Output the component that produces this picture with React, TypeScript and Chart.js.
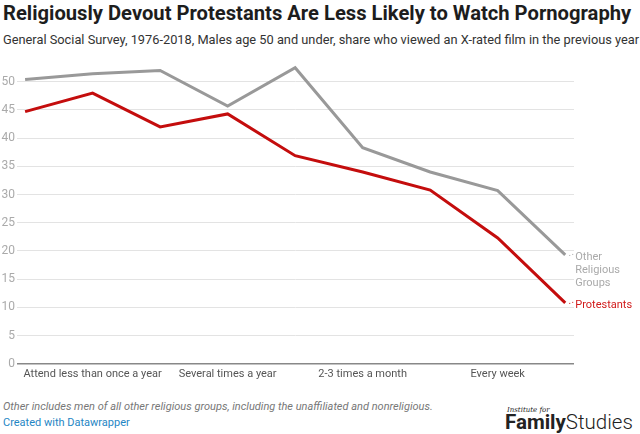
import React, { useEffect, useRef } from "react";
import { Chart, registerables } from "chart.js";

Chart.register(...registerables);

const categories = [
  "Never",
  "Attend less than once a year",
  "Once a year",
  "Several times a year",
  "Once a month",
  "2-3 times a month",
  "Nearly every week",
  "Every week",
  "More than once a week",
];
const shownTickIndexes = [1, 3, 5, 7];
const otherValues = [50.4, 51.4, 52.0, 45.7, 52.5, 38.3, 34.0, 30.7, 19.3];
const protestantValues = [44.7, 48.0, 42.0, 44.3, 36.9, 34.0, 30.8, 22.3, 10.8];
const yTickValues = [0, 5, 10, 15, 20, 25, 30, 35, 40, 45, 50];
const otherLabelLines = ["Other", "Religious", "Groups"];
const protestantLabelLines = ["Protestants"];

const FONT = "Roboto, 'Noto Sans', sans-serif";
const GRAY = "#999999";
const RED = "#c40d0d";

const endLabels = {
  id: "endLabels",
  afterDatasetsDraw(chart: any) {
    const ctx = chart.ctx;
    const specs = [
      { idx: 0, lines: otherLabelLines, color: "#aaaaaa", dot: "#aaaaaa" },
      { idx: 1, lines: protestantLabelLines, color: "#d11a1a", dot: "#d11a1a" },
    ];
    ctx.save();
    ctx.font = `11px ${FONT}`;
    ctx.textBaseline = "middle";
    ctx.textAlign = "left";
    for (const s of specs) {
      const meta = chart.getDatasetMeta(s.idx);
      const pt = meta.data[meta.data.length - 1];
      if (!pt) continue;
      const x = pt.x;
      const y = pt.y;
      ctx.fillStyle = s.dot;
      ctx.fillRect(x + 4, y, 1, 1);
      ctx.fillRect(x + 7, y - 1, 1, 1);
      ctx.fillStyle = s.color;
      s.lines.forEach((ln, i) => {
        ctx.fillText(ln, x + 10, y + 2 + i * 13);
      });
    }
    ctx.restore();
  },
};

function ChartCanvas() {
  const ref = useRef<HTMLCanvasElement | null>(null);
  useEffect(() => {
    if (!ref.current) return;
    const chart = new Chart(ref.current, {
      type: "line",
      data: {
        datasets: [
          {
            label: "Other Religious Groups",
            data: otherValues.map((v, i) => ({ x: i, y: v })),
            borderColor: GRAY,
            borderWidth: 3,
            pointRadius: 0,
            tension: 0,
          },
          {
            label: "Protestants",
            data: protestantValues.map((v, i) => ({ x: i, y: v })),
            borderColor: RED,
            borderWidth: 3,
            pointRadius: 0,
            tension: 0,
          },
        ],
      },
      options: {
        animation: false,
        responsive: false,
        maintainAspectRatio: false,
        layout: { padding: { top: 7.4, right: 66, bottom: 0, left: 0 } },
        plugins: {
          legend: { display: false },
          tooltip: { enabled: false },
        },
        scales: {
          x: {
            type: "linear",
            min: -0.12,
            max: 8.13,
            grid: { display: false, drawTicks: false },
            border: { display: false },
            afterBuildTicks: (scale: any) => {
              scale.ticks = shownTickIndexes.map((v) => ({ value: v }));
            },
            ticks: {
              autoSkip: false,
              maxRotation: 0,
              padding: 4,
              color: "#555555",
              font: { family: FONT, size: 11 },
              callback: (v: any) => categories[v as number] ?? "",
            },
          },
          y: {
            min: 0,
            max: 54,
            afterBuildTicks: (scale: any) => {
              scale.ticks = yTickValues.map((v) => ({ value: v }));
            },
            afterFit: (scale: any) => {
              scale.width = 17;
            },
            grid: {
              drawTicks: false,
              color: (c: any) => (c.tick && c.tick.value === 0 ? "#888888" : "#e3e3e3"),
              lineWidth: (c: any) => (c.tick && c.tick.value === 0 ? 1.5 : 1),
            },
            border: { display: false },
            ticks: {
              padding: 2,
              color: "#aaaaaa",
              font: { family: FONT, size: 12 },
            },
          },
        },
      },
      plugins: [endLabels],
    });
    return () => chart.destroy();
  }, []);
  return <canvas ref={ref} width={640} height={335} style={{ display: "block" }} />;
}

export default function App() {
  return (
    <div
      style={{
        position: "absolute",
        left: 0,
        top: 0,
        width: 640,
        height: 434,
        background: "#fff",
        fontFamily: FONT,
        overflow: "hidden",
      }}
    >
      <div
        style={{
          position: "absolute",
          left: 3,
          top: 0,
          fontSize: 20.2,
          fontWeight: 700,
          color: "#1d1d1d",
          whiteSpace: "nowrap",
          lineHeight: "26px",
        }}
      >
        Religiously Devout Protestants Are Less Likely to Watch Pornography
      </div>
      <div
        style={{
          position: "absolute",
          left: 3,
          top: 31,
          fontSize: 12.8,
          color: "#333",
          whiteSpace: "nowrap",
          lineHeight: "18px",
        }}
      >
        General Social Survey, 1976-2018, Males age 50 and under, share who viewed an X-rated film in the previous year
      </div>
      <div style={{ position: "absolute", left: 0, top: 50, width: 640, height: 335 }}>
        <ChartCanvas />
      </div>
      <div
        style={{
          position: "absolute",
          left: 3,
          top: 399,
          fontSize: 11,
          fontStyle: "italic",
          color: "#777",
          whiteSpace: "nowrap",
          lineHeight: "16px",
        }}
      >
        Other includes men of all other religious groups, including the unaffiliated and nonreligious.
      </div>
      <div
        style={{
          position: "absolute",
          left: 3,
          top: 415,
          fontSize: 11,
          color: "#1f86c4",
          whiteSpace: "nowrap",
          lineHeight: "16px",
        }}
      >
        Created with Datawrapper
      </div>
      <div
        style={{
          position: "absolute",
          left: 507,
          top: 405,
          fontSize: 7,
          fontStyle: "italic",
          fontFamily: "'DejaVu Serif', 'Liberation Serif', serif",
          color: "#222",
          whiteSpace: "nowrap",
          lineHeight: "10px",
        }}
      >
        Institute for
      </div>
      <div
        style={{
          position: "absolute",
          left: 505,
          top: 411,
          fontSize: 20.5,
          color: "#222",
          whiteSpace: "nowrap",
          lineHeight: "22px",
        }}
      >
        <span style={{ fontWeight: 700 }}>Family</span>
        <span style={{ fontWeight: 300 }}>Studies</span>
      </div>
    </div>
  );
}
